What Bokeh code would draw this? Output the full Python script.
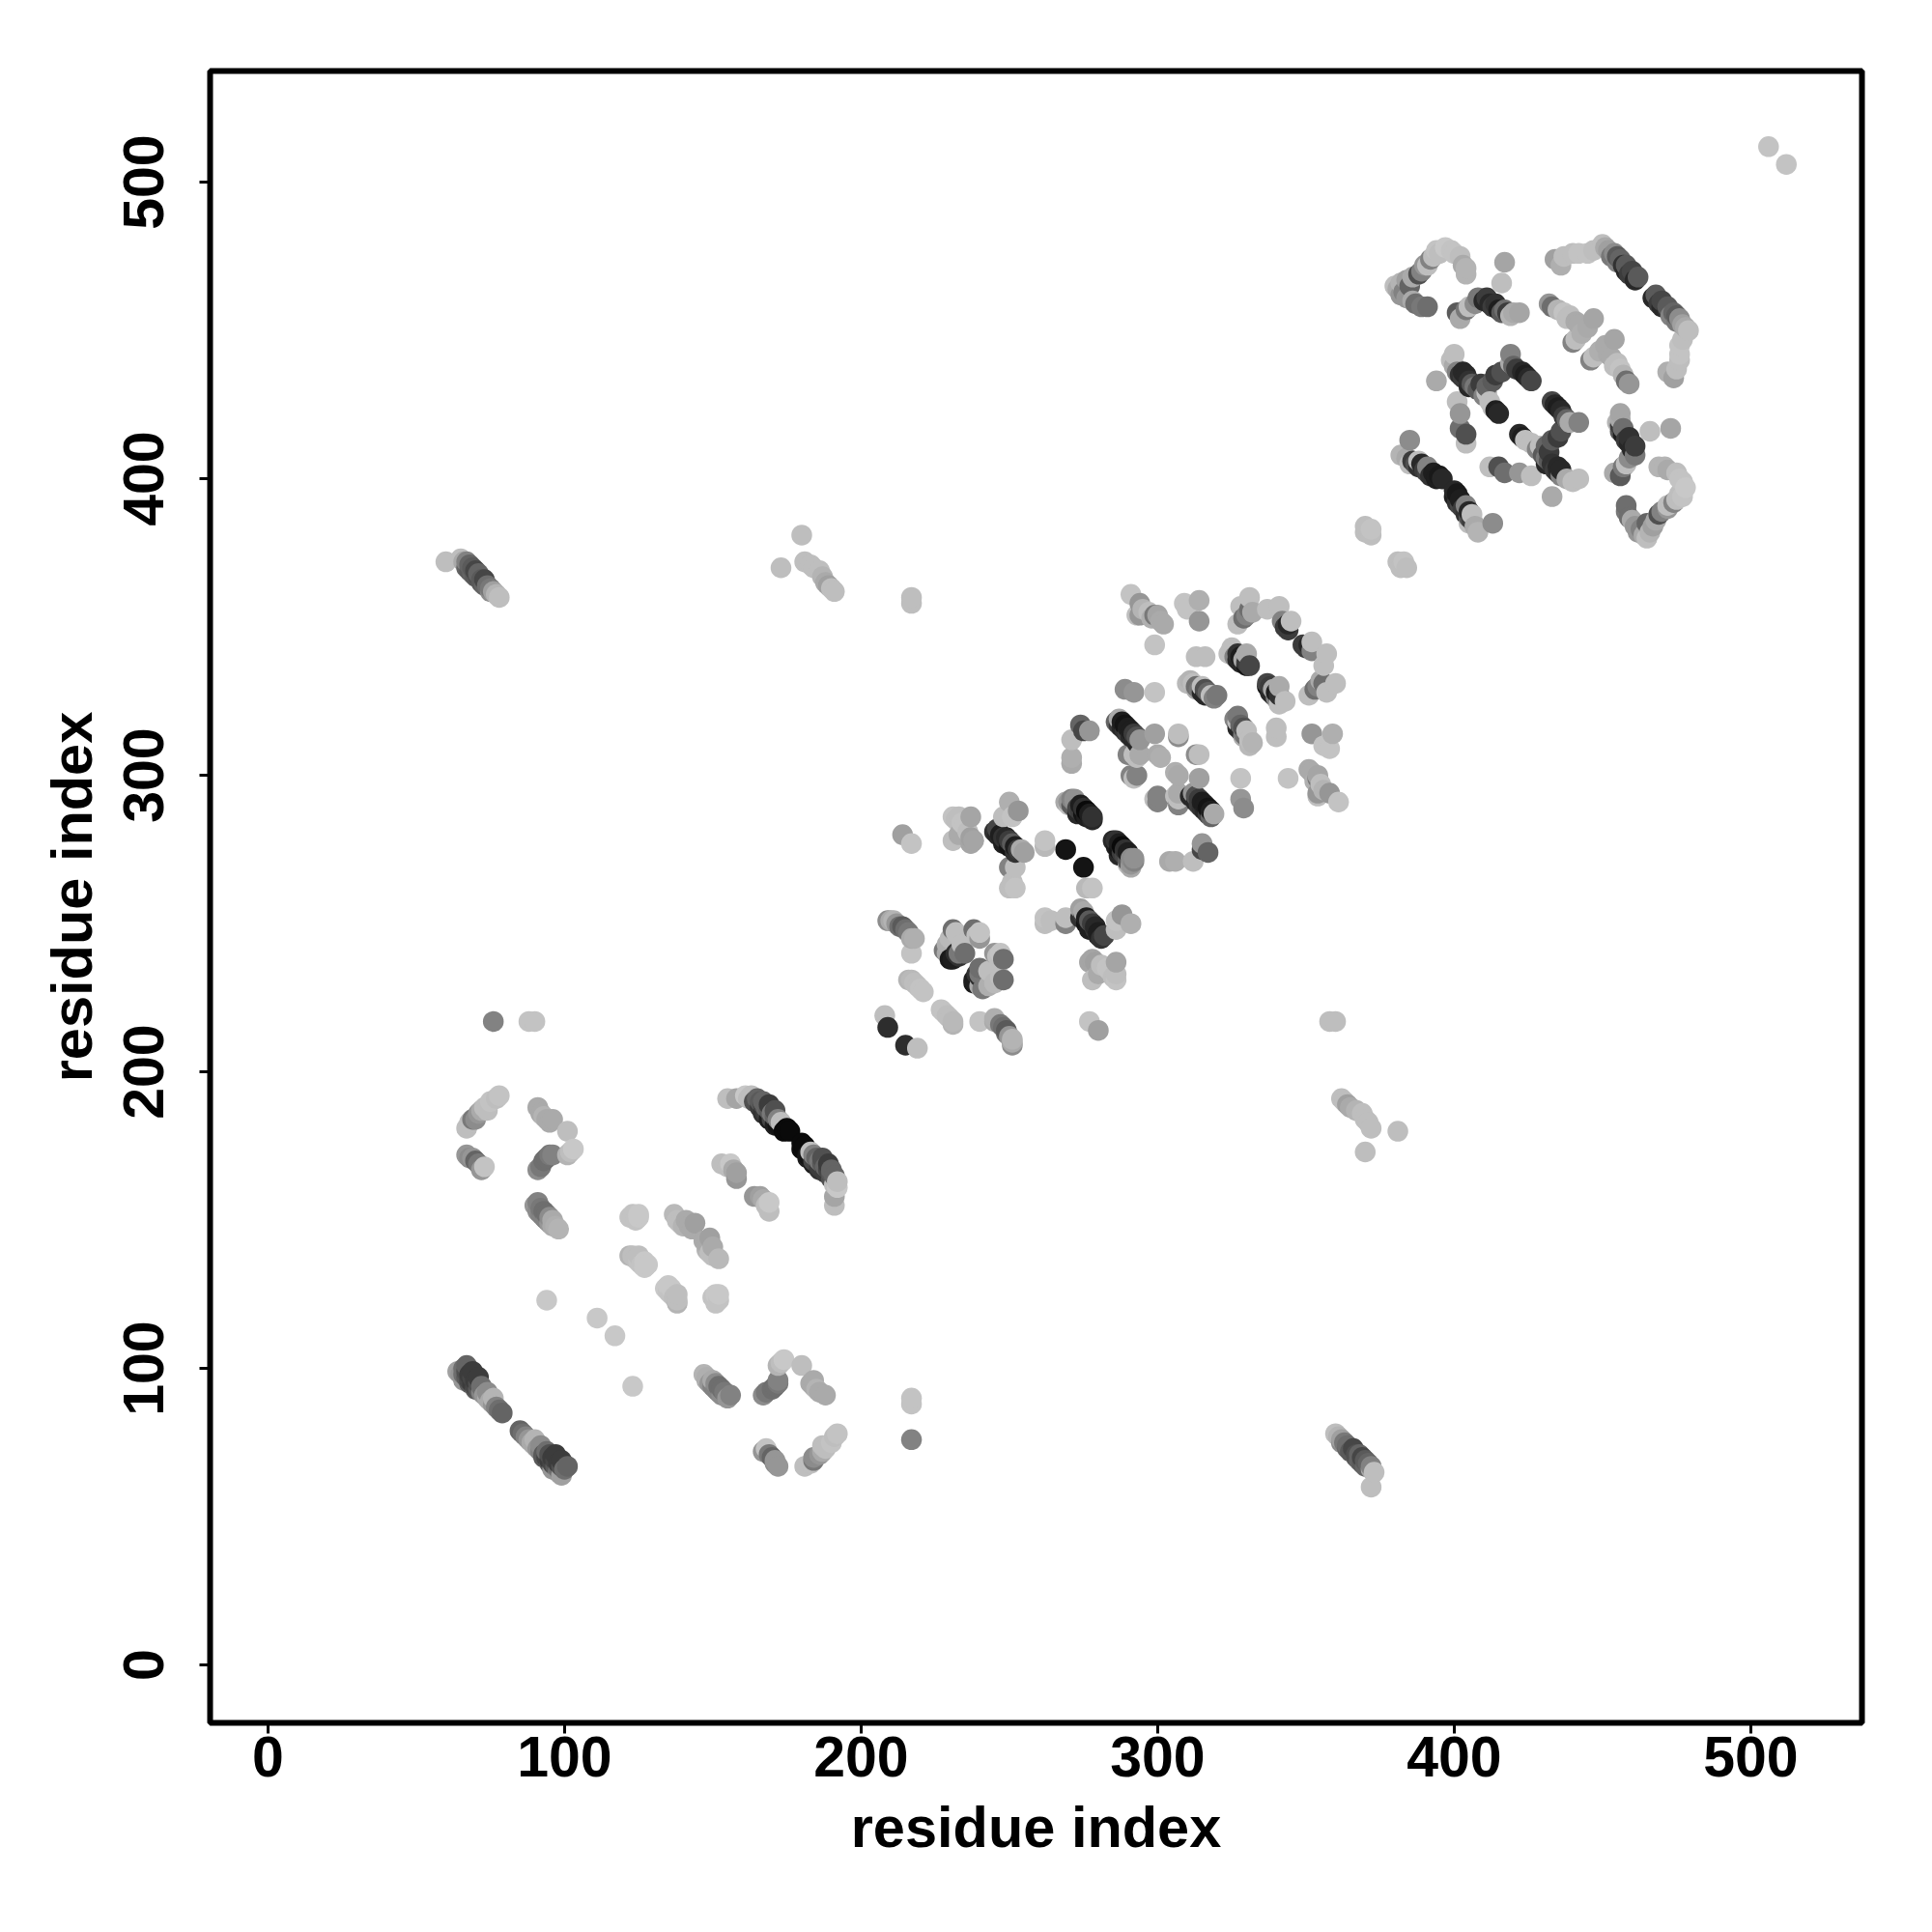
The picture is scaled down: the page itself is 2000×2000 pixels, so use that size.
from bokeh.plotting import figure
from bokeh.models import Range1d, FixedTicker, ColumnDataSource
from bokeh.embed import file_html
from bokeh.resources import INLINE

# each contact: (residue i, residue j, grey level); the map is symmetric
strand_65_100 = [(64,99,160),(65,98,150),(66,100,110),(66,98,110),(66,96,150),(67,97,90),(67,99,80),(67,101,100),(68,96,70),(68,98,60),(68,95,90),(69,95,60),(69,97,70),(69,99,60),(70,96,60),(70,94,70),(70,93,90),(71,95,80),(71,93,90),(71,97,60),(72,94,110),(72,92,130),(73,91,150),(74,92,140),(74,90,170),(75,89,170),(76,90,180),(76,88,150),(77,87,130),(78,86,110),(79,85,100)]
hairpin_68_190 = [(67,181,190),(68,183,190),(69,184,120),(70,184,140),(71,186,150),(72,187,170),(73,188,190),(74,187,190),(75,190,195),(77,191,190),(78,192,195)]
hairpin_68_170 = [(67,172,150),(68,171,140),(69,171,150),(70,170,100),(71,169,120),(72,167,150),(73,168,195)]
strand_91_188 = [(91,188,170),(92,186,170),(93,185,180),(94,184,170),(95,183,170),(96,184,170),(101,180,190)]
strand_91_170 = [(91,167,140),(92,168,120),(93,170,110),(94,171,110),(95,172,120),(96,172,130),(101,172,180),(102,173,190),(103,174,200)]
strand_90_155 = [(90,155,150),(91,156,130),(91,153,140),(92,154,120),(92,152,130),(93,153,110),(93,151,130),(94,150,130),(94,152,110),(95,151,140),(95,149,150),(96,150,170),(96,148,170),(97,148,175),(98,147,180)]
single_a = [(94,123,200),(111,117,200)]
block_123 = [(122,151,195),(123,152,195),(124,150,195),(125,152,200),(125,151,200),(122,138,180),(123,138,190),(124,137,190),(125,138,190),(125,136,195),(126,135,195),(127,134,200),(128,135,200),(127,136,200)]
block_137 = [(137,152,185),(138,150,190),(139,149,190),(140,148,180),(141,150,170),(142,148,170),(143,147,170),(144,149,160)]
helix_155_190 = [(155,191,190),(158,191,165),(161,192,200),(162,191,190),(163,192,190),(164,190,80),(165,191,100),(166,190,90),(166,188,60),(167,190,100),(167,189,70),(167,186,50),(168,188,100),(168,186,60),(169,189,60),(169,187,90),(169,184,30),(170,186,120),(170,184,70),(171,187,80),(171,185,100),(171,182,30),(172,184,130),(172,182,20),(173,183,190),(174,180,10),(175,181,10),(176,180,10)]
block_153 = [(153,169,190),(155,168,190),(156,169,200),(157,167,170),(158,166,160),(158,164,150)]
strand_60_372 = [(60,372,190),(65,373,190),(66,372,170),(67,372,130),(67,370,100),(68,371,100),(68,369,90),(69,370,90),(69,368,100),(70,369,70),(70,367,90),(71,367,80),(71,368,100),(72,366,90),(72,365,90),(73,366,70),(73,364,100),(74,364,110),(75,363,120),(75,362,140),(76,362,160),(77,361,180),(78,360,190)]
single_217 = [(76,217,130),(88,217,195),(90,217,195),(217,360,190),(217,358,190),(214,280,160),(217,277,195),(506,512,195)]
strand_173_370 = [(173,370,190),(180,381,190),(181,372,190),(183,371,190),(184,370,190),(186,369,190),(187,367,180),(188,365,170),(189,364,160),(190,363,190),(191,362,190)]
block_208 = [(208,219,190),(209,215,45),(216,231,180),(217,231,185),(218,230,190),(219,229,190),(220,228,195),(221,227,195)]
block_209 = [(209,251,140),(210,251,170),(211,251,180),(212,250,150),(213,249,110),(214,249,90),(215,248,110),(216,247,120),(217,245,170),(218,245,175),(217,240,195)]
block_228 = [(228,241,120),(229,243,175),(229,240,170),(230,245,185),(230,238,25),(231,248,110),(231,238,30),(232,247,190),(233,239,50),(232,240,45),(233,240,120),(234,243,190),(235,240,110),(238,248,110),(240,247,195),(240,245,150),(239,246,190)]
block_231 = [(231,286,195),(232,285,190),(233,286,190),(234,284,195),(235,283,195),(237,286,165),(231,278,190),(233,280,170),(237,279,160),(237,277,165),(238,278,165),(236,281,190)]
strand_245 = [(245,281,50),(246,282,70),(246,280,40),(247,280,30),(248,279,50),(248,277,30),(249,279,40),(250,278,60),(250,276,20),(251,277,90),(252,276,30),(252,274,50),(253,275,60),(254,275,170),(255,274,160)]
block_248 = [(248,286,190),(250,291,175),(251,286,195),(253,288,150),(250,269,130),(252,269,190),(251,264,190),(250,262,190),(252,262,195),(262,276,185),(262,278,195),(269,275,20)]
strand_269 = [(269,291,170),(270,290,190),(270,291,150),(271,292,130),(271,290,90),(272,291,140),(272,292,145),(273,289,70),(273,287,40),(274,290,30),(274,288,60),(275,289,50),(275,287,20),(276,288,10),(276,286,30),(277,287,30),(278,286,50),(278,285,40)]
block_271 = [(271,304,170),(271,306,175),(271,312,190),(274,317,100),(275,315,70),(277,315,150)]
strand_286 = [(286,318,100),(287,319,170),(287,317,60),(288,318,30),(288,316,40),(289,317,20),(289,315,50),(290,316,30),(290,314,60),(291,315,30),(291,313,40),(292,314,60),(293,313,80),(293,311,40),(294,312,150),(299,314,160)]
block_289 = [(289,329,140),(292,328,150),(299,328,195),(290,307,130),(292,307,190),(293,306,190),(294,307,170),(291,300,130),(292,299,190),(293,300,130),(300,307,170),(301,306,175),(307,313,140),(307,314,190)]
strand_310 = [(310,331,185),(311,332,180),(312,331,190),(313,330,110),(313,329,170),(314,329,120),(315,330,190),(315,328,40),(316,329,80),(316,327,40),(317,328,100),(318,327,190),(319,326,130),(320,327,120)]
strand_325 = [(325,343,190),(324,341,190),(326,340,130),(327,341,50),(327,339,40),(328,340,30),(328,338,40),(329,339,170),(330,338,60),(330,337,20),(331,337,70),(330,341,170)]
block_313 = [(313,340,190),(316,340,190),(309,358,195),(310,356,195),(314,359,175),(314,352,150)]
block_291 = [(291,361,195),(294,358,150),(293,354,190),(294,354,150),(295,356,180),(297,355,190),(298,353,175),(299,354,120),(300,354,165),(301,352,170),(302,351,170),(299,344,195)]
arc_327 = [(327,351,190),(328,357,190),(329,353,110),(330,354,130),(331,360,190),(331,356,110),(332,355,170),(337,356,190),(341,357,190),(342,352,130),(343,350,60),(344,349,60),(344,351,40),(345,352,190)]
block_370 = [(370,384,190),(370,382,190),(372,381,190),(372,383,195)]
arc_380 = [(380,465,190),(381,464,170),(382,466,180),(382,462,150),(383,463,130),(384,467,160),(384,461,150),(385,465,100),(386,468,170),(386,460,170),(387,459,110),(388,469,80),(389,470,130),(389,458,120),(391,458,110),(390,472,150),(391,472,190),(392,474,130),(393,475,190),(394,477,195),(395,476,190),(397,478,200),(399,477,195),(400,476,195),(402,475,190),(403,472,170),(404,471,180),(404,469,180)]
strand_401 = [(401,456,90),(402,454,170),(404,457,120),(405,458,190),(407,459,140),(408,461,120),(410,460,40),(411,461,60),(412,459,40),(413,458,60),(414,459,50),(415,457,30),(416,456,90),(417,457,110),(418,456,60),(419,455,180),(420,456,170),(422,456,165),(417,473,165),(416,466,190)]
strand_432 = [(432,459,150),(433,458,110),(435,457,180),(437,456,195),(438,454,190),(439,455,190),(440,446,130),(441,447,190),(441,453,170),(442,452,170),(443,449,175),(445,451,170),(447,454,165)]
arc_434 = [(434,474,160),(436,472,175),(437,475,190),(440,476,190),(442,476,195),(445,476,195),(447,477,190),(450,479,190),(451,478,170),(452,477,160),(453,475,120),(454,476,140),(455,473,130),(455,475,90),(456,474,100),(457,472,50),(458,472,90),(458,470,40),(459,469,60),(460,470,70),(461,467,40),(462,468,90)]
block_394 = [(394,433,170),(399,440,190),(400,442,190),(400,438,170),(401,436,130),(402,435,50),(403,436,40),(403,434,60),(404,435,40),(405,433,50),(405,431,40),(406,432,90),(407,431,120),(408,430,90),(409,432,60),(410,428,130),(411,429,190),(411,431,100),(412,426,190),(413,424,190),(414,423,30),(415,422,40),(413,433,90),(414,435,60),(416,436,80),(419,442,130),(419,439,170),(420,438,100),(421,437,60),(423,436,40),(424,435,30),(425,434,40),(426,433,70),(401,426,190),(402,422,150),(402,417,110),(404,415,80),(404,412,190)]
strand_382 = [(382,408,180),(384,407,170),(385,413,140),(385,405,190),(386,406,60),(387,405,80),(388,406,190),(388,404,50),(389,405,40),(390,403,60),(391,404,130),(391,402,70),(392,401,50),(393,402,30),(394,400,30),(395,401,25),(396,400,40)]

groups = [strand_65_100, hairpin_68_190, hairpin_68_170, strand_91_188, strand_91_170, strand_90_155, single_a,
          block_123, block_137, helix_155_190, block_153, strand_60_372, single_217, strand_173_370, block_208,
          block_209, block_228, block_231, strand_245, block_248, strand_269, block_271, strand_286, block_289,
          strand_310, strand_325, block_313, block_291, arc_327, block_370, arc_380, strand_401, strand_432,
          arc_434, block_394, strand_382]

tick_values = [0, 100, 200, 300, 400, 500]
axis_title = "residue index"

contacts = []
for g in groups:
    for a, b, lvl in g:
        contacts.append((a, b, lvl))
        contacts.append((b, a, lvl))
contacts.sort(key=lambda c: (c[0], c[1]))
src = ColumnDataSource(dict(
    x=[c[0] for c in contacts],
    y=[c[1] for c in contacts],
    color=["#%02x%02x%02x" % (c[2], c[2], c[2]) for c in contacts],
))

FONT = "Liberation Sans"
p = figure(width=1984, height=1984, min_border_left=217, min_border_right=57, min_border_top=73, min_border_bottom=201,
           x_range=Range1d(-19.5, 537.5), y_range=Range1d(-19.5, 537.5),
           output_backend="svg", toolbar_location=None)
p.scatter("x", "y", source=src, size=21.5, color="color", line_color=None)
p.grid.visible = False
p.outline_line_color = "black"
p.outline_line_width = 6
p.outline_line_alpha = 1
p.background_fill_color = "white"
for ax in (p.xaxis[0], p.yaxis[0]):
    ax.ticker = FixedTicker(ticks=tick_values)
    ax.axis_line_color = None
    ax.major_tick_line_color = "black"
    ax.major_tick_line_width = 3
    ax.major_tick_out = 11
    ax.major_tick_in = 0
    ax.minor_tick_line_color = None
    ax.axis_label = axis_title
    ax.axis_label_text_font = FONT
    ax.axis_label_text_font_style = "bold"
    ax.axis_label_text_font_size = "59.5px"
    ax.axis_label_text_color = "black"
    ax.major_label_text_font = FONT
    ax.major_label_text_font_style = "bold"
    ax.major_label_text_font_size = "59px"
    ax.major_label_text_color = "black"
p.xaxis[0].major_label_standoff = 3
p.xaxis[0].axis_label_standoff = 16
p.yaxis[0].major_label_standoff = 37
p.yaxis[0].axis_label_standoff = 18
p.yaxis[0].major_label_orientation = "vertical"

open("out.html", "w").write(file_html(p, INLINE))
